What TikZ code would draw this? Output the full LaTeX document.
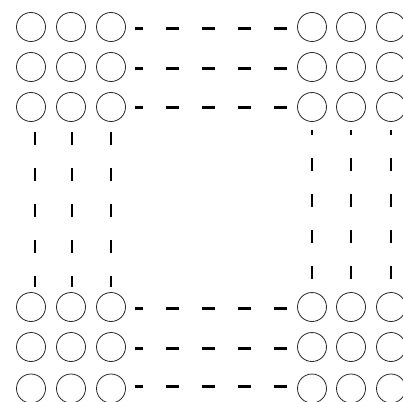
\documentclass[tikz,border=0pt]{standalone}
\begin{document}
\begin{tikzpicture}[x=1pt,y=-1pt,
  dot/.style={circle,draw=black!85,line width=0.8pt,minimum size=29pt,inner sep=0pt},
  dashln/.style={draw=black,line width=2.7pt,dash pattern=on 13pt off 23pt},
  hline/.style={dashln,shorten <=10.5pt,shorten >=9.5pt},
  lvline/.style={dashln,shorten <=10.5pt,shorten >=5.5pt},
  rvline/.style={dashln,shorten <=13.5pt,shorten >=8.5pt}]
\useasboundingbox (0,0) rectangle (403,401);
\clip (0,0) rectangle (403,401);
\foreach \r/\y in {1/27,2/67,3/107,4/307,5/347,6/388.5}{
  \foreach \c/\x in {1/31,2/71,3/111,4/312,5/351,6/391}{
    \node[dot] (n\r\c) at (\x,\y) {};
  }
}
% horizontal dashed connectors (drawn right to left)
\foreach \r/\s in {1/-1.5,2/-1.5,3/-0.5,4/-1.5,5/-1.5,6/2}{
  \draw[hline] ([yshift=\s pt]n\r4.west) -- ([yshift=\s pt]n\r3.east);
}
% left vertical dashed connectors (top to bottom)
\draw[lvline] ([xshift=4pt]n31.south) -- ([xshift=4pt]n41.north);
\draw[lvline] ([xshift=1pt]n32.south) -- ([xshift=1pt]n42.north);
\draw[lvline] (n33.south) -- (n43.north);
% right vertical dashed connectors (bottom to top)
\foreach \c in {4,5,6}{
  \draw[rvline] (n4\c.north) -- (n3\c.south);
}
\end{tikzpicture}
\end{document}
